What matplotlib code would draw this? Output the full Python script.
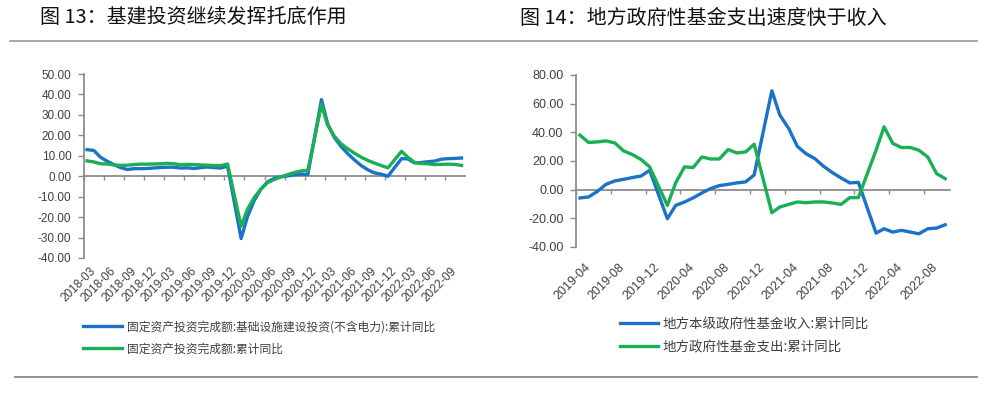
import matplotlib
matplotlib.use("Agg")
import matplotlib.pyplot as plt
import matplotlib.dates as mdates
import matplotlib.transforms as mtransforms
from matplotlib.lines import Line2D
from matplotlib.ticker import MultipleLocator, FuncFormatter
import pandas as pd

plt.rcParams['font.family'] = ['Noto Sans CJK SC', 'DejaVu Sans']

BLUE = '#1a73c6'
GREEN = '#1bae55'
AXIS_GREY = '#8c8c8c'
TEXT_GREY = '#404040'

# ---- Figure 13: infrastructure vs total fixed-asset investment (YTD yoy, %)
months_13 = (
    ['2018-03', '2018-04', '2018-05', '2018-06', '2018-07', '2018-08', '2018-09', '2018-10', '2018-11', '2018-12']
    + ['2019-02', '2019-03', '2019-04', '2019-05', '2019-06', '2019-07', '2019-08', '2019-09', '2019-10', '2019-11', '2019-12']
    + ['2020-02', '2020-03', '2020-04', '2020-05', '2020-06', '2020-07', '2020-08', '2020-09', '2020-10', '2020-11', '2020-12']
    + ['2021-02', '2021-03', '2021-04', '2021-05', '2021-06', '2021-07', '2021-08', '2021-09', '2021-10', '2021-11', '2021-12']
    + ['2022-02', '2022-03', '2022-04', '2022-05', '2022-06', '2022-07', '2022-08', '2022-09', '2022-10', '2022-11']
)
infra_13 = (
    [13.0, 12.6, 9.3, 7.3, 5.7, 4.2, 3.3, 3.7, 3.7, 3.8]
    + [4.3, 4.4, 4.4, 4.0, 4.1, 3.8, 4.2, 4.5, 4.2, 4.0, 5.0]
    + [-30.5, -19.7, -11.8, -6.3, -2.7, -1.0, -0.3, 0.2, 0.7, 1.0, 0.9]
    + [37.5, 25.7, 18.9, 14.6, 11.0, 8.0, 5.2, 3.1, 1.6, 1.0, 0.0]
    + [8.6, 8.5, 6.5, 6.7, 7.1, 7.4, 8.3, 8.6, 8.7, 8.9]
)
fai_13 = (
    [7.5, 7.0, 6.1, 6.0, 5.5, 5.3, 5.4, 5.7, 5.9, 5.9]
    + [6.1, 6.3, 6.1, 5.6, 5.8, 5.7, 5.5, 5.4, 5.2, 5.2, 6.0]
    + [-24.5, -16.1, -10.3, -6.3, -3.1, -1.6, -0.3, 0.8, 1.8, 2.6, 2.9]
    + [35.0, 25.0, 19.5, 15.9, 13.4, 11.3, 9.3, 7.7, 6.4, 5.2, 4.1]
    + [12.2, 9.3, 6.8, 6.2, 6.1, 5.7, 5.8, 5.9, 5.8, 5.3]
)
labels_13 = ['固定资产投资完成额:基础设施建设投资(不含电力):累计同比',
             '固定资产投资完成额:累计同比']
title_13 = '图 13：基建投资继续发挥托底作用'

# ---- Figure 14: local government fund revenue vs expenditure (YTD yoy, %)
months_14 = (
    ['2019-04', '2019-05', '2019-06', '2019-07', '2019-08', '2019-09', '2019-10', '2019-11', '2019-12']
    + ['2020-02', '2020-03', '2020-04', '2020-05', '2020-06', '2020-07', '2020-08', '2020-09', '2020-10', '2020-11', '2020-12']
    + ['2021-02', '2021-03', '2021-04', '2021-05', '2021-06', '2021-07', '2021-08', '2021-09', '2021-10', '2021-11', '2021-12']
    + ['2022-02', '2022-03', '2022-04', '2022-05', '2022-06', '2022-07', '2022-08', '2022-09', '2022-10']
)
revenue_14 = (
    [-5.8, -5.1, -1.2, 3.7, 6.1, 7.2, 8.4, 9.5, 13.5]
    + [-20.3, -11.0, -8.6, -5.8, -2.3, 0.7, 2.8, 3.7, 4.7, 5.4, 10.2]
    + [69.0, 52.0, 42.7, 30.3, 25.0, 21.7, 16.3, 11.9, 8.2, 4.7, 5.1]
    + [-30.3, -27.3, -29.6, -28.4, -29.6, -30.8, -27.3, -26.8, -24.5]
)
spending_14 = (
    [38.0, 32.9, 33.3, 34.0, 32.6, 27.0, 24.5, 21.0, 15.9]
    + [-11.0, 4.7, 15.9, 15.4, 22.8, 21.4, 21.4, 28.0, 25.6, 26.3, 31.7]
    + [-16.1, -12.1, -10.3, -8.6, -9.1, -8.6, -8.6, -9.3, -10.3, -5.6, -5.6]
    + [27.5, 43.8, 32.2, 29.4, 29.4, 27.5, 22.8, 11.2, 7.7]
)
labels_14 = ['地方本级政府性基金收入:累计同比', '地方政府性基金支出:累计同比']
title_14 = '图 14：地方政府性基金支出速度快于收入'


def to_dates(months):
    # monthly points sit in the middle of each month on the date axis
    return pd.to_datetime(months) + pd.Timedelta(days=14)


def style_axis(ax, fig, tick_dates, xlim, ylim, ystep, fsize, label_dy, label_dx):
    ax.set_xlim(pd.Timestamp(xlim[0]), pd.Timestamp(xlim[1]))
    ax.set_ylim(*ylim)
    ax.yaxis.set_major_locator(MultipleLocator(ystep))
    ax.yaxis.set_major_formatter(FuncFormatter(lambda v, p: f'{v:.2f}'))
    for s in ['top', 'right']:
        ax.spines[s].set_visible(False)
    ax.spines['left'].set_color(AXIS_GREY)
    ax.spines['left'].set_linewidth(1.3)
    ax.spines['bottom'].set_position(('data', 0))
    ax.spines['bottom'].set_color(AXIS_GREY)
    ax.spines['bottom'].set_linewidth(1.3)
    ax.spines['bottom'].set_zorder(1)
    ax.tick_params(axis='y', direction='out', length=4, width=1, color=AXIS_GREY,
                   labelsize=fsize, labelcolor=TEXT_GREY, pad=5)
    for t in ax.get_yticklabels():
        t.set_family(['Liberation Sans', 'DejaVu Sans'])
    ax.set_xticks(pd.to_datetime(tick_dates))
    ax.tick_params(axis='x', direction='out', length=3, width=1, color=AXIS_GREY,
                   labelbottom=False)

    nums = mdates.date2num(pd.to_datetime(tick_dates))
    sec = ax.secondary_xaxis('bottom')
    sec.set_xticks(nums)
    sec.xaxis.set_major_formatter(
        FuncFormatter(lambda v, p: mdates.num2date(v).strftime('%Y-%m')))
    sec.spines['bottom'].set_visible(False)
    sec.tick_params(axis='x', length=0, pad=label_dy, labelsize=fsize, labelcolor=TEXT_GREY)
    shift = mtransforms.ScaledTranslation(label_dx / 100, 0, fig.dpi_scale_trans)
    for t in sec.get_xticklabels():
        t.set_rotation(45)
        t.set_ha('right')
        t.set_va('top')
        t.set_rotation_mode('anchor')
        t.set_family(['Liberation Sans', 'DejaVu Sans'])
        t.set_transform(t.get_transform() + shift)


fig = plt.figure(figsize=(10, 3.99), dpi=100)

# left chart
ax1 = fig.add_axes([0.084, 0.3534, 0.381, 0.4611])
d13 = to_dates(months_13)
ax1.plot(d13, infra_13, color=BLUE, lw=2.4, label=labels_13[0], zorder=3)
ax1.plot(d13, fai_13, color=GREEN, lw=2.4, label=labels_13[1], zorder=4)
style_axis(ax1, fig, pd.date_range('2018-03-01', '2022-09-01', freq='3MS'),
           ('2018-03-01', '2022-12-01'), (-40, 50), 10, 8.5, 5, 6)
ax1.legend(loc='upper left', bbox_to_anchor=(0.083, 0.197), bbox_transform=fig.transFigure,
           frameon=False, fontsize=8.5, handlelength=3.3, handletextpad=0.4,
           labelspacing=0.75, borderpad=0, borderaxespad=0, labelcolor=TEXT_GREY)

# right chart
ax2 = fig.add_axes([0.576, 0.381, 0.374, 0.4311])
d14 = to_dates(months_14)
ax2.plot(d14, revenue_14, color=BLUE, lw=2.4, label=labels_14[0], zorder=3)
ax2.plot(d14, spending_14, color=GREEN, lw=2.4, label=labels_14[1], zorder=4)
style_axis(ax2, fig, pd.date_range('2019-04-01', '2022-08-01', freq='4MS'),
           ('2019-04-01', '2022-11-01'), (-40, 80), 20, 9, 10, 8)
ax2.legend(loc='upper left', bbox_to_anchor=(0.620, 0.205), bbox_transform=fig.transFigure,
           frameon=False, fontsize=9.7, handlelength=2.8, handletextpad=0.35,
           labelspacing=0.65, borderpad=0, borderaxespad=0, labelcolor=TEXT_GREY)

# titles and rules
fig.text(0.040, 0.955, title_13, fontsize=14.4, va='center', ha='left', color='#111111')
fig.text(0.520, 0.955, title_14, fontsize=14.4, va='center', ha='left', color='#111111')
fig.add_artist(Line2D([0.010, 0.977], [0.896, 0.896], transform=fig.transFigure,
                      color='#9a9a9a', lw=1.2))
fig.add_artist(Line2D([0.015, 0.977], [0.055, 0.055], transform=fig.transFigure,
                      color='#7f7f7f', lw=1.2))

fig.savefig('out.png', dpi=100)
